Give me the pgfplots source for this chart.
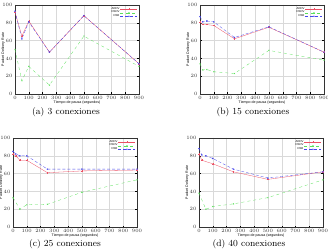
\documentclass[border=0pt]{standalone}
\usepackage{pgfplots}
\pgfplotsset{compat=1.18}
\usepackage{fontspec}
\setsansfont{Liberation Sans}
\definecolor{gpred}{RGB}{235,80,100}
\definecolor{gpgreen}{RGB}{90,225,90}
\definecolor{gpblue}{RGB}{70,70,235}
\pgfplotsset{gp/.style={
  scale only axis, width=124bp, height=89bp,
  xmin=0, xmax=900, ymin=0, ymax=100,
  xtick={0,100,...,900}, ytick={0,20,...,100},
  grid=major, grid style={gray!30, line width=0.2pt},
  axis line style={line width=0.3pt, black!80},
  tick style={line width=0.25pt, black}, major tick length=1.5bp,
  tick align=inside,
  tick label style={font=\sffamily\fontsize{2.8}{3}\selectfont, text=black!80},
  xticklabel shift=-1bp, yticklabel shift=-1bp,
  xlabel={Tiempo de pausa (segundos)}, ylabel={Packet Delivery Rate},
  label style={font=\sffamily\fontsize{3.6}{4}\selectfont},
  xlabel style={at={(axis description cs:0.5,0)}, anchor=north, yshift=-3.3bp},
  ylabel style={at={(axis description cs:0,0.5)}, anchor=south, yshift=6.5bp},
  legend style={at={(0.99,0.985)}, anchor=north east, draw=none, fill=none,
    font=\sffamily\fontsize{2.8}{3}\selectfont, inner sep=0pt, row sep=-1.4pt,
    nodes={inner sep=0.8pt}},
  legend plot pos=right, legend cell align=right,
  legend image post style={line width=0.3pt},
  every axis plot/.append style={line width=0.3pt, mark size=0.8pt, mark options={solid, line width=0.3pt}},
}}
\begin{document}
\begin{tikzpicture}[x=1bp,y=1bp]
\useasboundingbox (0,0) rectangle (328,252);
% (a)
\begin{axis}[gp, at={(15bp,158bp)}, anchor=south west]
\addplot[gpred, mark=+] coordinates {(0,92) (50,65) (100,82) (250,47) (500,88) (900,34)};
\addplot[gpgreen, mark=x, dashed] coordinates {(0,50) (50,15) (100,31) (250,10) (500,65) (900,31)};
\addplot[gpblue, mark=asterisk, densely dashed] coordinates {(0,93) (50,62) (100,81) (250,47) (500,88) (900,34)};
\legend{AODV,DSDV,DSR}
\end{axis}
% (b)
\begin{axis}[gp, at={(200bp,158bp)}, anchor=south west]
\addplot[gpred, mark=+] coordinates {(0,81) (20,78) (50,78) (100,77) (250,62) (500,75) (900,47)};
\addplot[gpgreen, mark=x, dashed] coordinates {(0,34) (20,27) (50,27.5) (100,25) (250,23) (500,49) (900,38)};
\addplot[gpblue, mark=asterisk, densely dashed] coordinates {(0,87) (20,81) (50,82) (100,81) (250,63.5) (500,75.5) (900,47)};
\legend{AODV,DSDV,DSR}
\end{axis}
% (c)
\begin{axis}[gp, at={(13bp,25bp)}, anchor=south west]
\addplot[gpred, mark=+] coordinates {(0,82) (20,80) (50,75) (100,75) (250,61) (500,63) (900,64)};
\addplot[gpgreen, mark=x, dashed] coordinates {(0,33) (50,20) (100,25) (250,25.5) (500,39) (900,53)};
\addplot[gpblue, mark=asterisk, densely dashed] coordinates {(0,85) (20,82) (50,80) (100,80) (250,65) (500,65) (900,65)};
\legend{AODV,DSDV,DSR}
\end{axis}
% (d)
\begin{axis}[gp, at={(199bp,25bp)}, anchor=south west]
\addplot[gpred, mark=+] coordinates {(0,82) (20,75) (100,71) (250,62) (500,53.5) (900,62)};
\addplot[gpgreen, mark=x, dashed] coordinates {(0,38) (50,20) (100,23) (250,26) (500,33) (900,53)};
\addplot[gpblue, mark=asterisk, densely dashed] coordinates {(0,88) (20,81) (50,80) (100,77) (250,65) (500,55) (900,62)};
\legend{AODV,DSDV,DSR}
\end{axis}
\node[font=\fontsize{9.3}{11}\selectfont] at (66,140) {(a) 3 conexiones};
\node[font=\fontsize{9.3}{11}\selectfont] at (253,140) {(b) 15 conexiones};
\node[font=\fontsize{9.3}{11}\selectfont] at (65,8) {(c) 25 conexiones};
\node[font=\fontsize{9.3}{11}\selectfont] at (249,8) {(d) 40 conexiones};
\end{tikzpicture}
\end{document}
